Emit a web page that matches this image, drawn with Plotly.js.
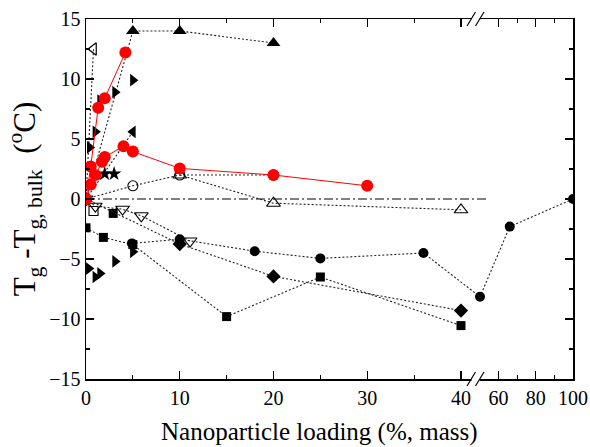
<!DOCTYPE html>
<html>
<head>
<meta charset="utf-8">
<script src="https://cdn.plot.ly/plotly-3.0.1.min.js"></script>
<style>
  html, body { margin: 0; padding: 0; background: #fff; }
  #chart { width: 590px; height: 447px; }
</style>
</head>
<body>
<div id="chart"></div>
<script>
// Glass transition shift vs. nanoparticle loading (broken x axis: 0-41 | 50-100)

// ---- data ----
const triUpX = [0, 5, 10, 20];
const triUpY = [0, 14, 14, 13];

const triLeftOpenX = [0, 0.8];
const triLeftOpenY = [0, 12.5];

const triRightHiX = [0.4, 1, 1.5, 3.1, 5];
const triRightHiY = [4.3, 5.6, 8.2, 8.9, 9.9];

const triLeftX = [0, 5];
const triLeftY = [0, 5.6];

const starX = [2, 3];
const starY = [2.1, 2.1];

const redAX = [0, 0.5, 1.3, 2, 4.2];
const redAY = [0, 2.7, 7.6, 8.4, 12.2];

const redBX = [0, 0.5, 1, 1.7, 2, 4, 5, 10, 20, 30];
const redBY = [0, 1.2, 2.0, 3.1, 3.5, 4.4, 3.95, 2.55, 2.0, 1.1];

const openCircX = [0, 5, 10, 20];
const openCircY = [0, 1.1, 2.0, 2.0];

const openTriUpX = [10, 20, 40];
const openTriUpY = [2.0, -0.35, -0.9];

const openTriDownX = [0, 1, 3.9, 5.9, 11.1];
const openTriDownY = [0, -0.6, -0.85, -1.4, -3.5];

const openSqX = [0.8];
const openSqY = [-1.0];

const sqX = [0, 1.85, 5, 15, 25, 40];
const sqY = [-2.4, -3.2, -3.8, -9.8, -6.5, -10.55];
const sqExtraX = [2.9];
const sqExtraY = [-1.2];

const circX = [4.9, 10, 18, 25, 36, 50, 66, 100];
const circY = [-3.7, -3.35, -4.35, -4.95, -4.5, -8.15, -2.3, 0];

const diaX = [0, 10, 20, 40];
const diaY = [0, -3.75, -6.45, -9.3];

const triRightLoX = [0.3, 1, 1.5, 3.1, 5];
const triRightLoY = [-5.8, -6.5, -6.2, -5.2, -4.4];

const refX = [0, 54.3];
const refY = [0, 0];

const majorTicks = [0, 10, 20, 30, 40, 60, 80, 100];
const minorTicks = [5, 15, 25, 35, 70, 90];

// ---- broken axis scale ----
// lower segment 0..41.07 kept as is; upper segment 50..100 compressed
const SEG2_START = 42.03;     // where 50 sits on the continuous axis
const SEG2_SCALE = 0.1984;    // compression factor for 50..100
function bx(v) { return v <= 45 ? v : SEG2_START + (v - 50) * SEG2_SCALE; }
const mapX = arr => arr.map(bx);
const X_MAX = bx(100);

const dotLine = { color: '#222', width: 1.1, dash: '2px,2px' };

function series(x, y, symbol, opts) {
  opts = opts || {};
  return {
    type: 'scatter',
    x: mapX(x), y: y,
    mode: opts.mode || 'lines+markers',
    line: opts.line || dotLine,
    marker: {
      symbol: symbol,
      size: opts.size || 10,
      color: opts.color || '#000',
      line: { color: opts.lineColor || '#000', width: opts.lw || 0 }
    },
    cliponaxis: true,
    hoverinfo: 'x+y',
    showlegend: false
  };
}

const traces = [
  { type: 'scatter', x: mapX(refX), y: refY, mode: 'lines',
    line: { color: '#000', width: 1, dash: '9px,3px,2px,3px' }, showlegend: false, hoverinfo: 'skip' },
  series(triLeftOpenX, triLeftOpenY, 'triangle-left-open', { size: 11, lw: 1.2 }),
  series(triUpX, triUpY, 'triangle-up', { size: 12 }),
  series(triLeftX, triLeftY, 'triangle-left', { size: 11 }),
  series(triRightHiX, triRightHiY, 'triangle-right', { size: 11, mode: 'markers' }),
  series(starX, starY, 'star', { size: 11, mode: 'markers' }),
  series(openCircX, openCircY, 'circle-open', { size: 10, lw: 1.1 }),
  series(openTriUpX, openTriUpY, 'triangle-up-open', { size: 12, lw: 1.1 }),
  series(openTriDownX, openTriDownY, 'triangle-down-open', { size: 12, lw: 1.1 }),
  series(openSqX, openSqY, 'square-open', { size: 9, lw: 1.1, mode: 'markers' }),
  series(sqX, sqY, 'square', { size: 9 }),
  series(sqExtraX, sqExtraY, 'square', { size: 9, mode: 'markers' }),
  series(circX, circY, 'circle', { size: 10 }),
  series(diaX, diaY, 'diamond', { size: 11 }),
  series(triRightLoX, triRightLoY, 'triangle-right', { size: 11, mode: 'markers' }),
  series(redBX, redBY, 'circle', { size: 12, color: '#ff0000', lineColor: '#ff0000',
    line: { color: '#ff0000', width: 1 } }),
  series(redAX, redAY, 'circle', { size: 12, color: '#ff0000', lineColor: '#ff0000',
    line: { color: '#ff0000', width: 1 } })
];

// axis-break marks (pixel geometry of the plot frame: 487 x 360)
const W = 487, H = 360;
const px = p => p / W, py = p => p / H;
const shapes = [];
[0, H].forEach(y0 => {
  // white gap in the frame line
  shapes.push({ type: 'rect', xref: 'paper', yref: 'paper', layer: 'above',
    x0: px(385.5), x1: px(393.5), y0: py(y0 - 2), y1: py(y0 + 2),
    line: { width: 0 }, fillcolor: '#fff' });
  [381, 389.5].forEach(xc => {
    shapes.push({ type: 'line', xref: 'paper', yref: 'paper', layer: 'above',
      x0: px(xc), y0: py(y0 - 7), x1: px(xc + 8.5), y1: py(y0 + 7),
      line: { color: '#000', width: 1.2 } });
  });
});

const serif = 'Liberation Serif, Times New Roman, serif';

const layout = {
  width: 590, height: 447,
  margin: { l: 86, r: 17, t: 19, b: 68 },
  paper_bgcolor: '#fff', plot_bgcolor: '#fff',
  font: { family: serif, color: '#000', size: 20 },
  showlegend: false,
  xaxis: {
    range: [0, X_MAX], showgrid: false, zeroline: false,
    showline: true, linecolor: '#000', linewidth: 1.5, mirror: 'ticks',
    ticks: 'inside', ticklen: 8, tickwidth: 1.2, tickcolor: '#000',
    tickmode: 'array', tickvals: mapX(majorTicks), ticktext: majorTicks.map(String),
    minor: { tickmode: 'array', tickvals: mapX(minorTicks), ticks: 'inside', ticklen: 4, tickwidth: 1.2, tickcolor: '#000' },
    tickfont: { family: serif, size: 20 }
  },
  yaxis: {
    range: [-15, 15], showgrid: false, zeroline: false,
    showline: true, linecolor: '#000', linewidth: 1.5, mirror: 'ticks',
    ticks: 'inside', ticklen: 8, tickwidth: 1.2, tickcolor: '#000',
    tickmode: 'linear', tick0: -15, dtick: 5,
    minor: { dtick: 2.5, ticks: 'inside', ticklen: 4, tickwidth: 1.2, tickcolor: '#000' },
    tickfont: { family: serif, size: 20 },
    title: { text: 'T<sub>g</sub> -T<sub>g, bulk</sub>  (<sup>o</sup>C)', font: { family: serif, size: 31 }, standoff: 4 }
  },
  annotations: [{
    xref: 'paper', yref: 'paper', x: 0.48, y: -0.102, yanchor: 'top', showarrow: false,
    text: 'Nanoparticle loading (%, mass)', font: { family: serif, size: 25, color: '#000' }
  }],
  shapes: shapes
};

Plotly.newPlot('chart', traces, layout, { displayModeBar: false, staticPlot: true });
</script>
</body>
</html>
